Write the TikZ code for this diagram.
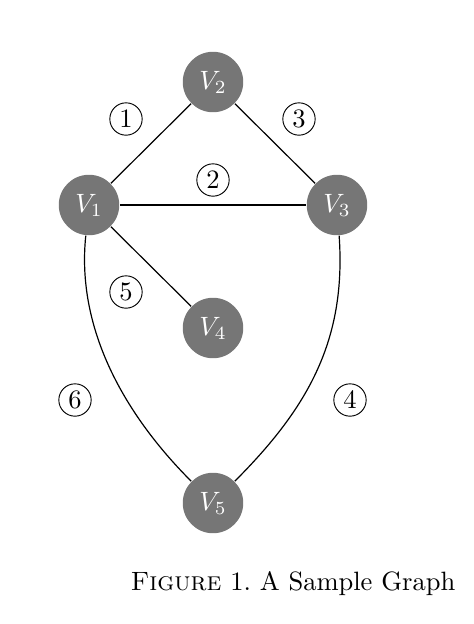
\documentclass[tikz,border=0pt]{standalone}
\usepackage{xcolor}
\usepackage{tikz}
\usetikzlibrary{positioning}

\definecolor{vertgray}{RGB}{118,118,118}

\begin{document}
\begin{tikzpicture}[
        x=0.377pt, y=-0.377pt,
        vertex/.style={
            circle,
            fill=vertgray,
            text=white,
            minimum size=22.8pt,
            inner sep=0pt
        },
        weight/.style={
            draw,
            circle,
            minimum size=12.2pt,
            inner sep=0pt,
            line width=0.35pt
        },
        edge/.style={line width=0.45pt}
    ]
        \useasboundingbox (0,0) rectangle (474,624);

        % vertices
        \node[vertex] (v2) at (213,82)  {$V_2$};
        \node[vertex] (v1) at (89,205)  {$V_1$};
        \node[vertex] (v3) at (337,205) {$V_3$};
        \node[vertex] (v4) at (213,328) {$V_4$};
        \node[vertex] (v5) at (213,503) {$V_5$};

        % edges
        \draw[edge] (v1) -- (v2);
        \draw[edge] (v1) -- (v3);
        \draw[edge] (v2) -- (v3);
        \draw[edge] (v1) -- (v4);
        \draw[edge] (v3) to[out=-86, in=45] (v5);
        \draw[edge] (v1) to[out=-96, in=135, looseness=0.9] (v5);

        % edge numbers
        \node[weight] (w1) at (126,119) {1};
        \node[weight] (w2) at (213,180) {2};
        \node[weight] (w3) at (299,119) {3};
        \node[weight] (w4) at (350,400) {4};
        \node[weight] (w5) at (126,292) {5};
        \node[weight] (w6) at (75,400)  {6};

        \node[anchor=base west, inner sep=0pt] (caption) at (130,590)
            {\textsc{Figure} 1.\ A Sample Graph};
    \end{tikzpicture}
\end{document}
